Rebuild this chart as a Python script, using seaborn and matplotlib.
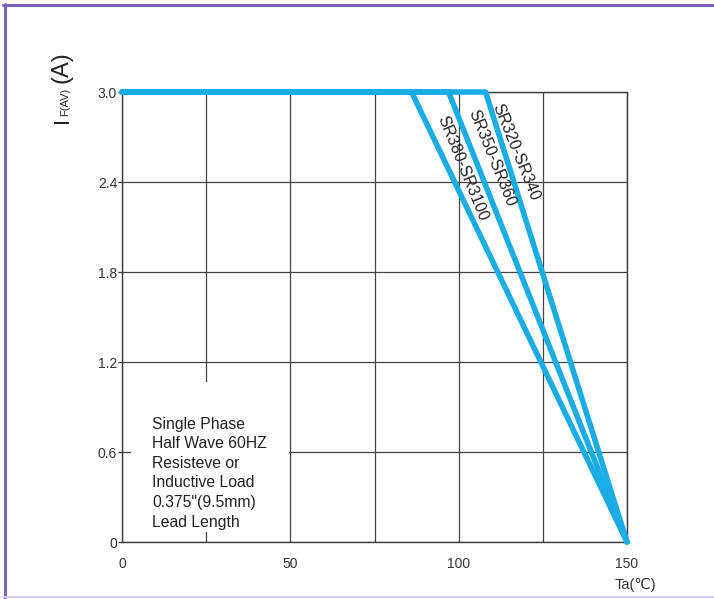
import matplotlib
matplotlib.use("Agg")
import matplotlib.pyplot as plt
from matplotlib.lines import Line2D
from matplotlib.patches import Rectangle
import numpy as np
import pandas as pd
import seaborn as sns

# Derating curves: forward current vs. ambient temperature
series_names = ["SR320-SR340", "SR350-SR360", "SR380-SR3100"]
knee_temps = [108, 97, 86]          # deg C where derating starts
rated_current = 3.0                 # A
max_temp = 150                      # deg C, current reaches zero
label_pos_x = [117.0, 109.9, 101.0]
label_pos_y = [2.60, 2.56, 2.49]

x_ticks = [0, 25, 50, 75, 100, 125, 150]
x_tick_labels = ["0", "", "50", "", "100", "", "150"]
y_ticks = [0, 0.6, 1.2, 1.8, 2.4, 3.0]
y_tick_labels = ["0", "0.6", "1.2", "1.8", "2.4", "3.0"]

note_lines = ["Single Phase", "Half Wave 60HZ", "Resisteve or",
              "Inductive Load", "0.375\"(9.5mm)", "Lead Length"]

rows = []
for name, knee in zip(series_names, knee_temps):
    for t, i in [(0, rated_current), (knee, rated_current), (max_temp, 0.0)]:
        rows.append({"series": name, "Ta": t, "IF": i})
df = pd.DataFrame(rows)

sns.set_style("white")
plt.rcParams["font.family"] = ["Liberation Sans", "DejaVu Sans"]

W, H = 714, 599
fig = plt.figure(figsize=(W / 100, H / 100), dpi=100)
fig.patch.set_facecolor("white")
ax = fig.add_axes([122 / W, 57 / H, 505 / W, 450 / H])

line_color = "#1AACE4"
ink = "#333333"

sns.lineplot(data=df, x="Ta", y="IF", hue="series",
             palette=[line_color] * len(series_names), legend=False,
             estimator=None, sort=False, lw=4, ax=ax, zorder=4,
             clip_on=False, solid_capstyle="round")

ax.set_xlim(0, 150)
ax.set_ylim(0, 3.0)
ax.set_xticks(x_ticks)
ax.set_xticklabels(x_tick_labels)
ax.set_yticks(y_ticks)
ax.set_yticklabels(y_tick_labels)
ax.set_xlabel("")
ax.set_ylabel("")
ax.tick_params(axis="x", length=0, pad=11, labelsize=10, labelcolor=ink)
ax.tick_params(axis="y", length=3, width=0.9, color=ink, pad=0.5,
               labelsize=10, labelcolor=ink, left=True)

ax.set_axisbelow(True)
ax.grid(True, color="#444444", lw=0.9)
for sp in ax.spines.values():
    sp.set_visible(True)
    sp.set_color("#3a3a3a")
    sp.set_linewidth(1.0)

# white panel behind the test-condition note
ax.add_patch(Rectangle((2.7, 0.067), 46.9, 1.0, facecolor="white",
                       edgecolor="none", zorder=1.5))
ax.text(8.9, 0.835, "\n".join(note_lines), ha="left", va="top",
        fontsize=11.3, linespacing=1.38, color="#222222", zorder=2)

# series labels along the slopes
for name, lx, ly in zip(series_names, label_pos_x, label_pos_y):
    ax.text(lx, ly, name, rotation=-68, rotation_mode="anchor",
            ha="center", va="center", fontsize=11.5, color="#222222",
            zorder=5)

# axis titles
fig.text(635 / W, 1 - 585 / H, "Ta(℃)", ha="center", va="center",
         fontsize=10.5, color=ink, family=["Liberation Sans", "DejaVu Sans"])
bx = 68 / W
fig.text(bx, 1 - 123 / H, "I", rotation=90, rotation_mode="anchor",
         ha="left", va="baseline", fontsize=16, color="#222222")
fig.text(bx, 1 - 116 / H, "F(AV)", rotation=90, rotation_mode="anchor",
         ha="left", va="baseline", fontsize=8, color="#222222")
fig.text(bx, 1 - 83 / H, "(A)", rotation=90, rotation_mode="anchor",
         ha="left", va="baseline", fontsize=17, color="#222222")

# page frame
px = fig.transFigure
fig.add_artist(Line2D([3 / W, 1.0], [1 - 5 / H, 1 - 5 / H], color="#7E62BE",
                      lw=2.2, transform=px))
fig.add_artist(Line2D([4.5 / W, 4.5 / W], [0, 1 - 4 / H], color="#7E62BE",
                      lw=2.2, transform=px))
fig.add_artist(Line2D([3 / W, 1.0], [1 - 597 / H, 1 - 597 / H],
                      color="#D6CEF0", lw=1.5, transform=px))

fig.savefig("out.png", dpi=100, facecolor="white")
